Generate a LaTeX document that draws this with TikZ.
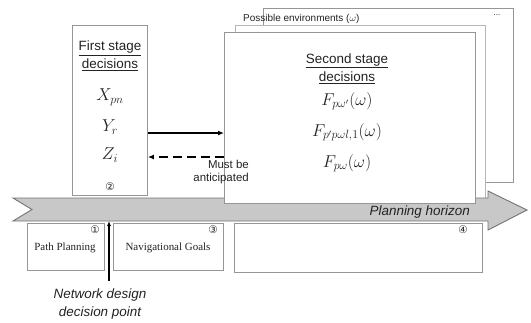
\documentclass[tikz,border=0pt]{standalone}
\usepackage{fontspec}
\setmainfont{Liberation Serif}
\setsansfont{Liberation Sans}
\newfontfamily\dejavu{DejaVu Sans}
\usetikzlibrary{arrows.meta}
\definecolor{boxgray}{RGB}{150,150,150}
\definecolor{bandfill}{RGB}{200,200,200}
\definecolor{bandline}{RGB}{115,115,115}
\definecolor{pinkline}{RGB}{232,160,160}
\definecolor{txt}{RGB}{35,35,35}
\begin{document}
\begin{tikzpicture}[x=1bp,y=-1bp,
  box/.style={draw=boxgray, line width=0.9bp, fill=white, inner sep=0, anchor=north west},
  sans/.style={font=\sffamily\fontsize{13.5}{18}\selectfont, text=txt, align=center, inner sep=0},
  small/.style={font=\sffamily\fontsize{10}{12}\selectfont, text=txt, inner sep=0},
  serif/.style={font=\rmfamily\fontsize{11}{13}\selectfont, text=txt, inner sep=0},
  mth/.style={font=\fontsize{17}{20}\selectfont, text=txt, inner sep=0},
  circ/.style={font=\dejavu\fontsize{10.5}{11}\selectfont, text=txt, inner sep=0},
  conn/.style={line width=1.4bp, draw=black, -{Latex[length=6bp,width=5bp]}},
  dconn/.style={conn, dash pattern=on 9bp off 5bp}]
\useasboundingbox (0,0) rectangle (531,322);
% stacked environment pages (back)
\node[box, minimum width=250bp, minimum height=174bp] (env3) at (263,8) {};
\node[box, draw=pinkline, minimum width=250bp, minimum height=175bp] (env2) at (235,25) {};
\node[small, anchor=west] (envlbl) at (243,19) {Possible environments ($\omega$)};
\node[small, font=\sffamily\fontsize{8}{9}\selectfont] (dots) at (497,15) {...};
% planning horizon band
\fill[bandfill, draw=bandline, line width=0.9bp, line join=miter]
  (13,198) -- (488,198) -- (488,191) -- (527,210) -- (488,230) -- (488,221)
  -- (13,221) -- (32,209.5) -- cycle;
\node[sans, font=\sffamily\itshape\fontsize{13.5}{16}\selectfont, anchor=east] (ph) at (470,212) {Planning horizon};
% front second-stage page
\node[box, minimum width=251bp, minimum height=171bp] (second) at (224,32) {};
\node[sans] (sectitle) at (347,68.5) {\underline{Second stage}\\\underline{decisions}};
\node[mth] (f1) at (347,101) {$F_{p\omega'}(\omega)$};
\node[mth] (f2) at (347,132) {$F_{p'p\omega l,1}(\omega)$};
\node[mth] (f3) at (347,163) {$F_{p\omega}(\omega)$};
% first-stage box
\node[box, minimum width=75bp, minimum height=170bp] (first) at (72,25) {};
\node[sans] (firsttitle) at (110,56) {\underline{First stage}\\\underline{decisions}};
\node[mth] (xv) at (110,97) {$X_{pn}$};
\node[mth] (yv) at (110,127) {$Y_{r}$};
\node[mth] (zv) at (110,155) {$Z_{i}$};
\node[circ] (c2) at (110,187) {②};
% connectors between stages
\draw[conn] (first.east |- 0,133) -- (second.west |- 0,133);
\draw[dconn] (second.west |- 0,157) -- (first.east |- 0,157);
\node[sans, font=\sffamily\fontsize{11.5}{13.5}\selectfont, align=right, anchor=north east] (must) at (249,160) {Must be\\anticipated};
% bottom boxes
\node[box, minimum width=77bp, minimum height=47bp] (pp) at (27,223) {};
\node[box, minimum width=110bp, minimum height=47bp] (ng) at (113,223) {};
\node[box, minimum width=248bp, minimum height=49bp] (b4) at (234,223) {};
\node[serif] (pptext) at (65,248) {Path Planning};
\node[serif] (ngtext) at (168,248) {Navigational Goals};
\node[circ] (c1) at (95,229.5) {①};
\node[circ] (c3) at (213,229.5) {③};
\node[circ] (c4) at (463,229.5) {④};
% network design decision point
\node[sans, font=\sffamily\itshape\fontsize{13.5}{18}\selectfont] (ndp) at (100,304) {Network design\\decision point};
\coordinate (ndptop) at (109,281);
\coordinate (bandbot) at (109,221);
\draw[line width=1.4bp, -{Latex[length=5bp,width=4bp]}] (ndptop) -- (bandbot);
\end{tikzpicture}
\end{document}
